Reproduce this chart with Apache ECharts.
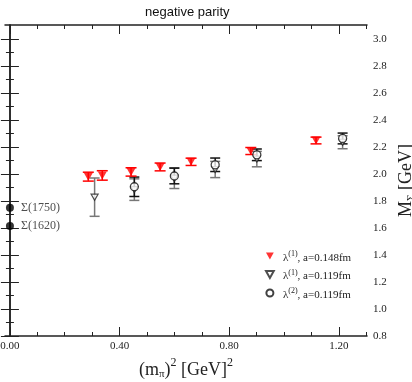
<!DOCTYPE html>
<html>
<head>
<meta charset="utf-8">
<script src="https://cdn.jsdelivr.net/npm/echarts@6/dist/echarts.min.js"></script>
<style>
  html, body { margin: 0; padding: 0; background: #fff; }
  #chart { width: 412px; height: 382px; }
</style>
</head>
<body>
<div id="chart"></div>
<script>
// lambda(1), a=0.148fm (red filled triangles)
const redX = [0.286, 0.337, 0.442, 0.548, 0.661, 0.879, 1.117];
const redY = [1.981, 1.990, 2.016, 2.053, 2.091, 2.171, 2.249];
const redErr = [0.033, 0.035, 0.031, 0.029, 0.027, 0.026, 0.025];

// lambda(1), a=0.119fm (open triangles)
const triX = [0.309, 0.454, 0.600, 0.749, 0.901, 1.214];
const triY = [1.829, 1.885, 1.970, 2.034, 2.111, 2.236];
const triErr = [0.142, 0.080, 0.077, 0.060, 0.057, 0.048];

// lambda(2), a=0.119fm (open circles)
const circX = [0.454, 0.600, 0.749, 0.901, 1.214];
const circY = [1.906, 1.986, 2.069, 2.143, 2.264];
const circErr = [0.072, 0.058, 0.050, 0.043, 0.040];

// experimental states at m_pi^2 = 0
const sigmaNames = ['Σ(1750)', 'Σ(1620)'];
const sigmaY = [1.750, 1.616];

const xMajor = [0, 0.4, 0.8, 1.2];
const xMinor = [0.1, 0.2, 0.3, 0.5, 0.6, 0.7, 0.9, 1.0, 1.1, 1.3];
const yMajor = [0.8, 1.0, 1.2, 1.4, 1.6, 1.8, 2.0, 2.2, 2.4, 2.6, 2.8, 3.0];
const yMinor = [0.9, 1.1, 1.3, 1.5, 1.7, 1.9, 2.1, 2.3, 2.5, 2.7, 2.9];

const serif = '"Liberation Serif", "DejaVu Serif", serif';
const downTri = 'path://M0,0 L10,0 L5,9 Z';

const zip = (xs, ys) => xs.map((x, i) => [x, ys[i]]);
const bars = (xs, ys, es) => xs.map((x, i) => [x, ys[i] - es[i], ys[i] + es[i]]);

function errRender(color, cap) {
  return function (params, api) {
    const x = api.value(0);
    const lo = api.coord([x, api.value(1)]);
    const hi = api.coord([x, api.value(2)]);
    const st = { stroke: color, lineWidth: 1.5 };
    return {
      type: 'group',
      children: [
        { type: 'line', shape: { x1: lo[0], y1: lo[1], x2: hi[0], y2: hi[1] }, style: st },
        { type: 'line', shape: { x1: lo[0] - cap, y1: lo[1], x2: lo[0] + cap, y2: lo[1] }, style: st },
        { type: 'line', shape: { x1: hi[0] - cap, y1: hi[1], x2: hi[0] + cap, y2: hi[1] }, style: st }
      ]
    };
  };
}

const frame = { show: true, lineStyle: { color: '#222', width: 1.5 } };
const noLine = { show: false };

function xAx(pos, ticks, len, labels, extra) {
  return Object.assign({
    type: 'value', position: pos, min: -0.018, max: 1.303,
    axisLine: labels || len > 5 ? frame : noLine,
    splitLine: { show: false },
    axisTick: { inside: true, length: len, customValues: ticks, lineStyle: { color: '#222', width: 1 } },
    axisLabel: labels ? {
      customValues: ticks, margin: 5, color: '#222', fontFamily: serif, fontSize: 11,
      formatter: (v) => v.toFixed(2)
    } : { show: false }
  }, extra || {});
}

function yAx(pos, ticks, len, labels, extra) {
  return Object.assign({
    type: 'value', position: pos, min: 0.8, max: 3.105,
    axisLine: labels || len > 5 ? frame : noLine,
    splitLine: { show: false },
    axisTick: { inside: true, length: len, customValues: ticks, lineStyle: { color: '#222', width: 1 } },
    axisLabel: labels ? {
      customValues: ticks, margin: 6, color: '#222', fontFamily: serif, fontSize: 11,
      formatter: (v) => v.toFixed(1)
    } : { show: false }
  }, extra || {});
}

const chart = echarts.init(document.getElementById('chart'), null, { renderer: 'canvas' });

chart.setOption({
  animation: false,
  backgroundColor: '#fff',
  title: {
    text: 'negative parity',
    left: 140, top: 1,
    textStyle: { fontFamily: '"Liberation Sans", Arial, sans-serif', fontSize: 13, fontWeight: 'normal', color: '#111' }
  },
  grid: { left: 5, right: 45, top: 25, bottom: 46, outerBoundsMode: 'none', containLabel: false },
  legend: {
    orient: 'vertical',
    left: 260, top: 245,
    itemGap: 5, itemWidth: 8, itemHeight: 7,
    data: ['red', 'tri', 'circ'],
    formatter: (name) => ({
      red: '{l|λ}{s|(1)}{t|, a=0.148fm}',
      tri: '{l|λ}{s|(1)}{t|, a=0.119fm}',
      circ: '{l|λ}{s|(2)}{t|, a=0.119fm}'
    })[name],
    textStyle: {
      rich: {
        l: { fontFamily: serif, fontSize: 11, color: '#222', padding: [4, 0, 0, 4] },
        t: { fontFamily: serif, fontSize: 11, color: '#222', padding: [4, 0, 0, 0] },
        s: { fontFamily: serif, fontSize: 8, color: '#222', padding: [0, 0, 4, 0] }
      }
    }
  },
  xAxis: [
    xAx('bottom', xMajor, 9, true, {
      name: '{t|(m}{sub|π}{t|)}{sup|2}{t| [GeV]}{sup|2}',
      nameLocation: 'middle', nameGap: 18,
      nameTextStyle: {
        rich: {
          t: { fontFamily: serif, fontSize: 18, color: '#222', padding: [4, 0, 0, 0] },
          sub: { fontFamily: serif, fontSize: 11, color: '#222', padding: [13, 0, 0, 0] },
          sup: { fontFamily: serif, fontSize: 12, color: '#222', padding: [0, 0, 10, 0] }
        }
      }
    }),
    xAx('bottom', xMinor, 4, false),
    xAx('top', xMajor, 9, false),
    xAx('top', xMinor, 4, false)
  ],
  yAxis: [
    yAx('right', yMajor, 9, true, {
      name: '{t|M}{sub|Σ}{t| [GeV]}',
      nameLocation: 'middle', nameGap: 23, nameRotate: 90,
      nameTextStyle: {
        rich: {
          t: { fontFamily: serif, fontSize: 18, color: '#222', padding: [4, 0, 0, 0] },
          sub: { fontFamily: serif, fontSize: 11, color: '#222', padding: [13, 0, 0, 0] }
        }
      }
    }),
    yAx('right', yMinor, 4, false),
    yAx('left', yMajor, 9, false),
    yAx('left', yMinor, 4, false)
  ],
  series: [
    {
      type: 'custom', name: 'triErr', renderItem: errRender('#777', 5),
      data: bars(triX, triY, triErr), z: 2
    },
    {
      type: 'custom', name: 'circErr', renderItem: errRender('#111', 5),
      data: bars(circX, circY, circErr), z: 3
    },
    {
      type: 'custom', name: 'redErr', renderItem: errRender('#ff0000', 5.5),
      data: bars(redX, redY, redErr), z: 4
    },
    {
      type: 'scatter', name: 'tri', symbol: downTri, symbolSize: [7, 6],
      itemStyle: { color: '#fff', borderColor: '#222', borderWidth: 1.2 },
      data: zip(triX, triY), z: 5
    },
    {
      type: 'scatter', name: 'circ', symbol: 'circle', symbolSize: 8,
      itemStyle: { color: '#fff', borderColor: '#111', borderWidth: 1.3 },
      data: zip(circX, circY), z: 6
    },
    {
      type: 'scatter', name: 'red', symbol: downTri, symbolSize: [9, 8],
      itemStyle: { color: '#ff0000' },
      data: zip(redX, redY), z: 7
    },
    {
      type: 'scatter', name: 'sigma', symbol: 'circle', symbolSize: 8,
      itemStyle: { color: '#000' },
      data: sigmaY.map((y, i) => ({ value: [0, y], name: sigmaNames[i] })),
      label: {
        show: true, position: 'right', distance: 7,
        formatter: (p) => p.name,
        fontFamily: serif, fontSize: 12, color: '#222'
      },
      z: 8
    }
  ]
});
</script>
</body>
</html>
